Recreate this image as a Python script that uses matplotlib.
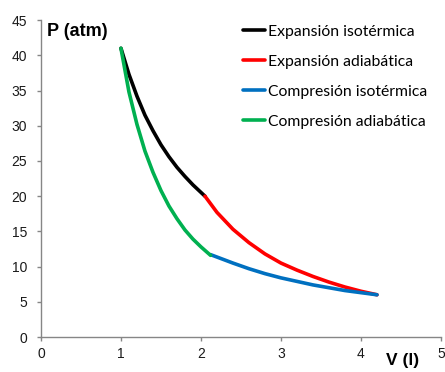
import matplotlib
matplotlib.use("Agg")
import matplotlib.pyplot as plt

# Ciclo de Carnot: puntos (V en litros, P en atm)
v_exp_iso = [1.0, 1.1, 1.2, 1.3, 1.4, 1.5, 1.6, 1.7, 1.8, 1.9, 2.05]
p_exp_iso = [41.0, 37.3, 34.2, 31.5, 29.3, 27.3, 25.6, 24.1, 22.8, 21.6, 20.0]

v_exp_adi = [2.05, 2.2, 2.4, 2.6, 2.8, 3.0, 3.2, 3.4, 3.6, 3.8, 4.0, 4.2]
p_exp_adi = [20.0, 17.7, 15.3, 13.4, 11.8, 10.5, 9.5, 8.6, 7.8, 7.1, 6.5, 6.0]

v_comp_iso = [4.2, 4.0, 3.8, 3.6, 3.4, 3.2, 3.0, 2.8, 2.6, 2.4, 2.12]
p_comp_iso = [6.0, 6.3, 6.6, 7.0, 7.4, 7.9, 8.4, 9.0, 9.7, 10.5, 11.7]

v_comp_adi = [2.12, 2.0, 1.9, 1.8, 1.7, 1.6, 1.5, 1.4, 1.3, 1.2, 1.1, 1.0]
p_comp_adi = [11.6, 12.8, 13.9, 15.2, 16.8, 18.6, 20.8, 23.4, 26.4, 30.2, 34.8, 41.0]

labels = ["Expansión isotérmica", "Expansión adiabática",
          "Compresión isotérmica", "Compresión adiabática"]
colors = ["#000000", "#ff0000", "#0070c0", "#00b050"]

plt.rcParams['font.family'] = ['Liberation Sans', 'DejaVu Sans']

fig = plt.figure(figsize=(4.45, 3.72), dpi=100)
ax = fig.add_axes([0.092, 0.094, 0.899, 0.852])

series = [(v_exp_iso, p_exp_iso), (v_exp_adi, p_exp_adi),
          (v_comp_iso, p_comp_iso), (v_comp_adi, p_comp_adi)]
for (v, p), lab, col in zip(series, labels, colors):
    ax.plot(v, p, color=col, lw=2.6, label=lab, solid_capstyle='round')

ax.set_xlim(0, 5)
ax.set_ylim(0, 45)
ax.set_xticks(range(0, 6))
ax.set_yticks(range(0, 50, 5))

for s in ['top', 'right']:
    ax.spines[s].set_visible(False)
for s in ['left', 'bottom']:
    ax.spines[s].set_color('#868686')
    ax.spines[s].set_linewidth(1.0)
ax.tick_params(colors='#868686', length=3, width=1.0, labelsize=10)
ax.tick_params(axis='y', pad=7)
ax.tick_params(axis='x', pad=4)
for t in ax.get_xticklabels() + ax.get_yticklabels():
    t.set_color('#1a1a1a')

fig.text(47 / 445, 1 - 31 / 372, "P (atm)", fontsize=13, fontweight='bold',
         va='center', ha='left')
fig.text(386 / 445, 1 - 361 / 372, "V (l)", fontsize=12.5, fontweight='bold',
         va='center', ha='left')

leg = ax.legend(loc='upper left', bbox_to_anchor=(0.469, 1.03), frameon=False,
                handlelength=1.4, handletextpad=0.2, labelspacing=1.02,
                prop={'family': 'Lato', 'size': 11.3})

fig.savefig("out.png", dpi=100)
